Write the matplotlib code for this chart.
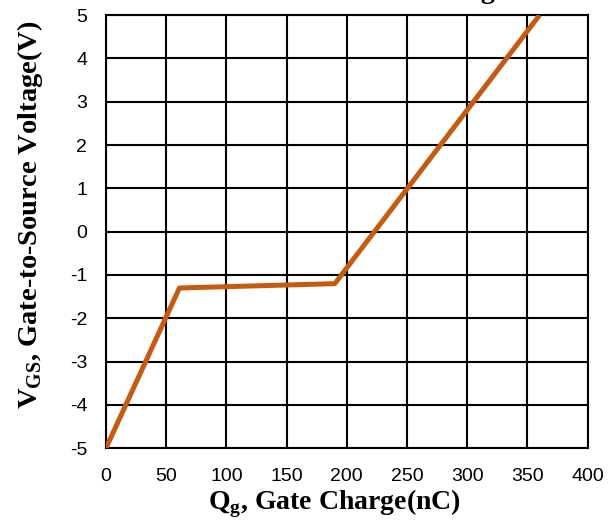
import matplotlib
matplotlib.use("Agg")
import matplotlib.pyplot as plt
import numpy as np

plt.rcParams["axes.unicode_minus"] = False

# gate charge curve
qg = [0, 61, 190, 360]
vgs = [-5.0, -1.3, -1.2, 5.0]

x_ticks = [0, 50, 100, 150, 200, 250, 300, 350, 400]
y_ticks = [-5, -4, -3, -2, -1, 0, 1, 2, 3, 4, 5]

fig = plt.figure(figsize=(6.16, 5.23), dpi=100)
ax = fig.add_axes([0.172, 0.143, 0.782, 0.828])

ax.plot(qg, vgs, color="#C55A11", linewidth=3.6, solid_capstyle="butt", zorder=3)

ax.set_xlim(0, 400)
ax.set_ylim(-5, 5)
ax.set_xticks(x_ticks)
ax.set_yticks(y_ticks)
ax.grid(True, color="black", linewidth=1.5)
for s in ax.spines.values():
    s.set_linewidth(1.5)
ax.tick_params(axis="x", length=0, pad=14, labelsize=14)
ax.tick_params(axis="y", length=0, pad=13.5, labelsize=14)
for lab in ax.get_xticklabels() + ax.get_yticklabels():
    lab.set_family("Liberation Sans")

ax.set_xlabel(r"Q$_\mathregular{g}$, Gate Charge(nC)", family="Liberation Serif",
              fontweight="bold", fontsize=20, va="center")
ax.set_ylabel(r"V$_\mathregular{GS}$, Gate-to-Source Voltage(V)", family="Liberation Serif",
              fontweight="bold", fontsize=20.5, va="center")
ax.xaxis.set_label_coords(0.474, -0.128)
ax.yaxis.set_label_coords(-0.158, 0.54)

# title sits mostly above the canvas, only the descender shows
fig.text(0.70, 1.003, "Gate Charge", family="Liberation Serif", fontweight="bold",
         fontsize=20, ha="center", va="baseline")

fig.savefig("out.png", dpi=100)
